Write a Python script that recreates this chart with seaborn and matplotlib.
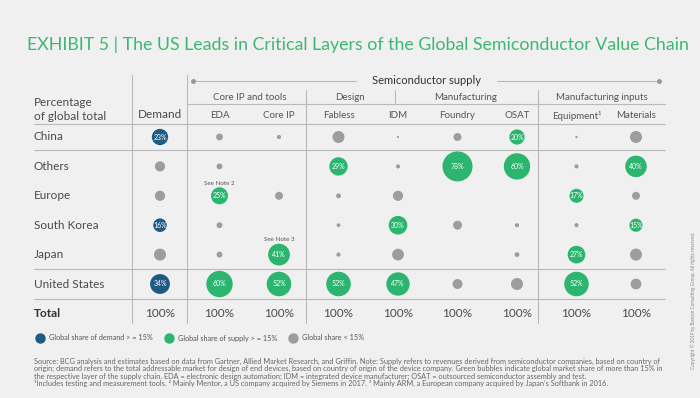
import matplotlib
matplotlib.use("Agg")
import pandas as pd
import seaborn as sns
import matplotlib.pyplot as plt
from matplotlib.transforms import Affine2D, blended_transform_factory

# share of global total (%), None = no bubble
columns = ["Demand", "EDA", "Core IP", "Fabless", "IDM", "Foundry", "OSAT", "Equipment", "Materials"]
regions = ["China", "Others", "Europe", "South Korea", "Japan", "United States"]
china = [23, 4, 1.5, 12.5, 0.4, 5.5, 20, 0.5, 12.5]
others = [9, 3, None, 29, 1.5, 78, 60, 1.5, 40]
europe = [9, 25, 5.5, 2, 9, None, None, 17, 5.5]
south_korea = [16, 3, None, 1.2, 30, 7, 1.5, 1.5, 15]
japan = [12.5, 3, 41, 1.5, 12, None, 2, 27, 12.5]
united_states = [34, 60, 52, 52, 47, 8.5, 12.5, 52, 10]
totals = ["100%"] * 9
groups = ["Core IP and tools", "Design", "Manufacturing", "Manufacturing inputs"]

BG = "#f0f0f0"
BLUE = "#1f5b85"
GREEN = "#2bb56e"
GREY = "#9d9d9d"
LINE = "#b9b9b9"
TXT = "#4a4a4a"
palette = {"demand": BLUE, "supply": GREEN, "small": GREY}

sns.set_theme(style="white")
plt.rcParams["font.family"] = ["Lato", "DejaVu Sans"]

W, H = 700, 398
fig = plt.figure(figsize=(7, 3.98), dpi=100, facecolor=BG)
ax = fig.add_axes([0, 0, 1, 1])
ax.set_facecolor(BG)
# pixel coordinates (origin top-left) for the table furniture
pix = Affine2D().scale(1 / W, -1 / H).translate(0, 1) + fig.transFigure

records = []
for reg, vals in zip(regions, [china, others, europe, south_korea, japan, united_states]):
    for col, v in zip(columns, vals):
        if v is None:
            continue
        if v >= 15:
            kind = "demand" if col == "Demand" else "supply"
        else:
            kind = "small"
        records.append(dict(region=reg, layer=col, share=v, kind=kind))
df = pd.DataFrame(records)
df["x"] = df.layer.map(columns.index)
df["y"] = df.region.map(regions.index)

sns.scatterplot(data=df, x="x", y="y", size="share", sizes=(0, 600), size_norm=(0, 100),
                hue="kind", palette=palette, linewidth=0, legend=False, ax=ax, zorder=3)
for _, r in df[df.kind != "small"].iterrows():
    ax.text(r.x, r.y, f"{r.share:g}%", color="white", fontsize=5, ha="center", va="center", zorder=4)

# total row
for i, t in enumerate(totals):
    ax.text(i, len(regions), t, color=TXT, fontsize=8.5, ha="center", va="center")

# notes above bubbles
ax.text(columns.index("EDA"), regions.index("Europe") - 0.42, "See Note 2", fontsize=4.5,
        color="#555", ha="center", va="center")
ax.text(columns.index("Core IP"), regions.index("Japan") - 0.5, "See Note 3", fontsize=4.5,
        color="#555", ha="center", va="center")

# grid mapping: column pitch 59.5 px from x=160, row pitch 29.4 px from y=137
ax.set_xlim((0 - 160) / 59.5, (W - 160) / 59.5)
ax.set_ylim((H - 137) / 29.4, (0 - 137) / 29.4)
ax.axis("off")

hdr = blended_transform_factory(ax.transData, pix)
for i, c in enumerate(columns[1:], start=1):
    lab = "Equipment¹" if c == "Equipment" else c
    ax.text(i, 116, lab, transform=hdr, fontsize=7, color="#555", ha="center", va="center")
ax.text(0, 115, "Demand", transform=hdr, fontsize=8.5, color=TXT, ha="center", va="center")

row_tr = blended_transform_factory(pix, ax.transData)
for j, reg in enumerate(regions):
    ax.text(34, j, reg, transform=row_tr, fontsize=8.5, color=TXT, ha="left", va="center")
ax.text(34, len(regions), "Total", transform=row_tr, fontsize=8.5, color="#333",
        fontweight="bold", ha="left", va="center")

ax.text(34, 102, "Percentage", transform=pix, fontsize=8.5, color=TXT, va="center")
ax.text(34, 116, "of global total", transform=pix, fontsize=8.5, color=TXT, va="center")

for gx, g in zip([250, 350, 466, 602], groups):
    ax.text(gx, 97, g, transform=pix, fontsize=7, color="#555", ha="center", va="center")
ax.text(426, 80, "Semiconductor supply", transform=pix, fontsize=8, color="#333",
        ha="center", va="center")


def hline(y, x1, x2):
    ax.plot([x1, x2], [y, y], transform=pix, color=LINE, lw=0.8, clip_on=False)


def vline(x, y1, y2):
    ax.plot([x, x], [y1, y2], transform=pix, color=LINE, lw=0.8, clip_on=False)


hline(81, 193, 356)
hline(81, 497, 659)
ax.plot([193, 659], [81, 81], transform=pix, ls="none", marker="o", ms=2.5, color="#999")
hline(104, 187, 665)
for y in [124, 150, 269, 299]:
    hline(y, 34, 665)
vline(132, 75, 323)
vline(187, 75, 323)
vline(306, 90, 323)
vline(538, 90, 323)
vline(395, 90, 103)

# title
ax.text(27, 45, "EXHIBIT 5 | The US Leads in Critical Layers of the Global Semiconductor Value Chain",
        transform=pix, fontsize=12.8, color="#3db872", va="center")

# legend
leg = [(40, BLUE, "Global share of demand > = 15%"),
       (169, GREEN, "Global share of supply > = 15%"),
       (293, GREY, "Global share < 15%")]
for lx, lc, lt in leg:
    ax.plot([lx], [338], transform=pix, marker="o", ms=6.5, color=lc, ls="none", clip_on=False)
    ax.text(lx + 9, 338, lt, transform=pix, fontsize=5.2, color="#555", va="center")

notes = [
    "Source: BCG analysis and estimates based on data from Gartner, Allied Market Research, and Griffin. Note: Supply refers to revenues derived from semiconductor companies, based on country of",
    "origin; demand refers to the total addressable market for design of end devices, based on country of origin of the device company. Green bubbles indicate global market share of more than 15% in",
    "the respective layer of the supply chain. EDA = electronic design automation; IDM = integrated device manufacturer; OSAT = outsourced semiconductor assembly and test.",
    "¹Includes testing and measurement tools. ² Mainly Mentor, a US company acquired by Siemens in 2017. ³ Mainly ARM, a European company acquired by Japan’s Softbank in 2016.",
]
for k, line in enumerate(notes):
    ax.text(34, 361 + 7.5 * k, line, transform=pix, fontsize=5.3, color="#666", va="center")

ax.text(693, 300, "Copyright © 2019 by Boston Consulting Group. All rights reserved.", transform=pix,
        rotation=90, fontsize=3.3, color="#888", ha="center", va="center")

fig.savefig("out.png", dpi=100, facecolor=BG)
